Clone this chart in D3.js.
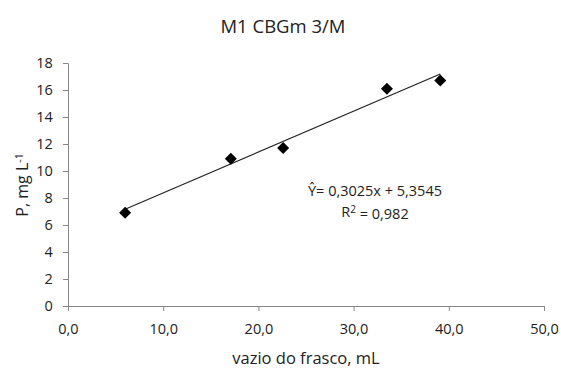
<!DOCTYPE html>
<html>
<head>
<meta charset="utf-8">
<script src="https://cdn.jsdelivr.net/npm/d3@7"></script>
<style>
  body { margin: 0; background: #fff; }
  text { font-family: "Open Sans", "Noto Sans", sans-serif; fill: #222; }
</style>
</head>
<body>
<div id="chart"></div>
<script>
// data
const volumes = [6.0, 17.1, 22.6, 33.5, 39.1];
const phosphorus = [6.9, 10.9, 11.7, 16.1, 16.7];
const slope = 0.3025;
const intercept = 5.3545;
const xTicks = [0, 10, 20, 30, 40, 50];
const yTicks = [0, 2, 4, 6, 8, 10, 12, 14, 16, 18];

const width = 561, height = 372;
const margin = { top: 63, right: 17, bottom: 66, left: 68 };

const svg = d3.select("#chart").append("svg")
  .attr("width", width)
  .attr("height", height);

const x = d3.scaleLinear().domain([0, 50]).range([margin.left, width - margin.right]);
const y = d3.scaleLinear().domain([0, 18]).range([height - margin.bottom, margin.top]);

const fmt = d => d.toFixed(1).replace(".", ",");

// eixos
const xAxis = svg.append("g")
  .attr("transform", `translate(0, ${y(0)})`)
  .call(d3.axisBottom(x).tickValues(xTicks).tickFormat(fmt).tickSize(5).tickSizeOuter(0));

const yAxis = svg.append("g")
  .attr("transform", `translate(${x(0)}, 0)`)
  .call(d3.axisLeft(y).tickValues(yTicks).tickSize(5).tickSizeOuter(0));

[xAxis, yAxis].forEach(ax => {
  ax.selectAll("path, line").attr("stroke", "#868686");
  ax.selectAll("text").style("font-size", "14.5px").attr("fill", "#222");
});
xAxis.selectAll("text").attr("dy", "1.4em");
yAxis.selectAll("text").attr("dx", "-0.5em");

// linha de tendência
const xs = d3.extent(volumes);
svg.append("line")
  .attr("x1", x(xs[0])).attr("y1", y(slope * xs[0] + intercept))
  .attr("x2", x(xs[1])).attr("y2", y(slope * xs[1] + intercept))
  .attr("stroke", "#222")
  .attr("stroke-width", 1.2);

// pontos (losangos)
svg.selectAll(".pt")
  .data(volumes.map((v, i) => [v, phosphorus[i]]))
  .enter()
  .append("path")
  .attr("class", "pt")
  .attr("d", d3.symbol().type(d3.symbolSquare).size(72))
  .attr("transform", d => `translate(${x(d[0])}, ${y(d[1])}) rotate(45)`)
  .attr("fill", "#000");

// títulos
svg.append("text")
  .attr("x", 283).attr("y", 33)
  .attr("text-anchor", "middle")
  .style("font-size", "18.5px")
  .text("M1 CBGm 3/M");

svg.append("text")
  .attr("x", x(25)).attr("y", 364)
  .attr("text-anchor", "middle")
  .style("font-size", "16.5px")
  .text("vazio do frasco, mL");

const yt = svg.append("text")
  .attr("transform", `translate(28, 185) rotate(-90)`)
  .attr("text-anchor", "middle")
  .style("font-size", "16px");
yt.append("tspan").text("P, mg L");
yt.append("tspan").attr("dy", "-0.5em").style("font-size", "10.5px").text("-1");

// equação
svg.append("text")
  .attr("x", 375).attr("y", 196)
  .attr("text-anchor", "middle")
  .style("font-size", "14.5px")
  .text("Ŷ= 0,3025x + 5,3545");

const r2 = svg.append("text")
  .attr("x", 375).attr("y", 217)
  .attr("text-anchor", "middle")
  .style("font-size", "14.5px");
r2.append("tspan").text("R");
r2.append("tspan").attr("dy", "-0.45em").style("font-size", "10px").text("2");
r2.append("tspan").attr("dy", "0.45em").text(" = 0,982");
</script>
</body>
</html>
